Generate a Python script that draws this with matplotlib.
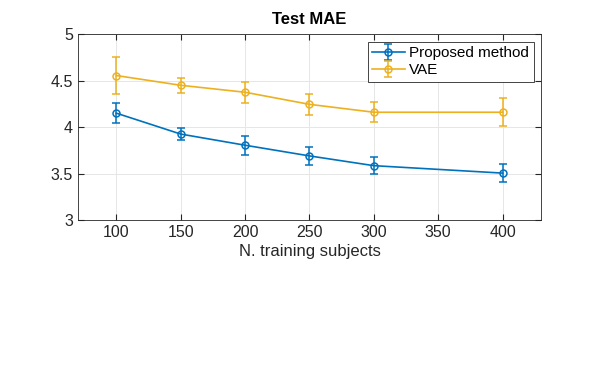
import matplotlib
matplotlib.use("Agg")
import matplotlib.pyplot as plt

plt.rcParams['font.family'] = ['Liberation Sans', 'DejaVu Sans']

n_subjects = [100, 150, 200, 250, 300, 400]
proposed_mean = [4.15, 3.925, 3.805, 3.69, 3.585, 3.505]
proposed_err = [0.11, 0.06, 0.10, 0.095, 0.095, 0.095]
vae_mean = [4.555, 4.45, 4.375, 4.245, 4.16, 4.16]
vae_err = [0.195, 0.08, 0.115, 0.115, 0.105, 0.15]

blue = '#0072BD'
yellow = '#EDB120'

fig = plt.figure(figsize=(5.98, 3.84), dpi=100)
ax = fig.add_axes([0.130, 0.427, 0.775, 0.484])

ax.errorbar(n_subjects, proposed_mean, yerr=proposed_err, color=blue, marker='o',
            markersize=5, markerfacecolor='none', markeredgewidth=1.1, linewidth=1.2,
            capsize=3, elinewidth=1.1, capthick=1.1, label='Proposed method')
ax.errorbar(n_subjects, vae_mean, yerr=vae_err, color=yellow, marker='o',
            markersize=5, markerfacecolor='none', markeredgewidth=1.1, linewidth=1.2,
            capsize=3, elinewidth=1.1, capthick=1.1, label='VAE')

ax.set_xlim(70, 430)
ax.set_ylim(3, 5)
ax.set_xticks([100, 150, 200, 250, 300, 350, 400])
ax.set_yticks([3, 3.5, 4, 4.5, 5])
ax.set_yticklabels(['3', '3.5', '4', '4.5', '5'])
ax.grid(True, color='#e6e6e6', linewidth=0.7)
ax.set_axisbelow(True)
ax.tick_params(direction='in', length=4, labelsize=11.5, colors='#262626',
               top=True, right=True)
for s in ax.spines.values():
    s.set_color('#262626')
    s.set_linewidth(0.6)

ax.set_xlabel('N. training subjects', fontsize=12, color='#262626', labelpad=3)
ax.set_title('Test MAE', fontsize=12, fontweight='bold', pad=7)

leg = ax.legend(loc='upper right', fontsize=11, fancybox=False, framealpha=1,
                edgecolor='#262626', borderpad=0.3, labelspacing=0.2,
                handlelength=2.1, handletextpad=0.3, borderaxespad=0.5)
leg.get_frame().set_linewidth(0.6)

fig.savefig('out.png', dpi=100)
